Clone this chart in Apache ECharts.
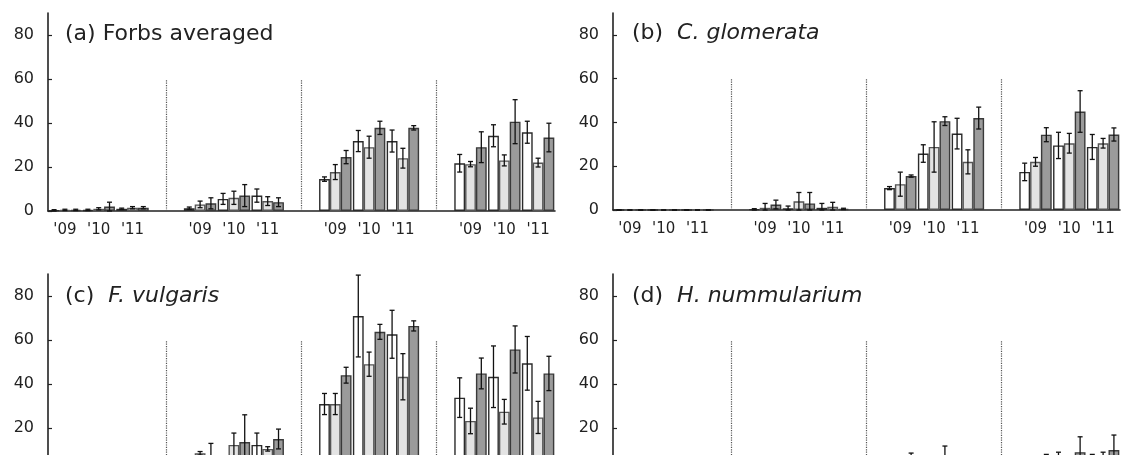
<!DOCTYPE html>
<html>
<head>
<meta charset="utf-8">
<script src="https://cdn.jsdelivr.net/npm/echarts@6/dist/echarts.min.js"></script>
<style>
  html, body { margin: 0; padding: 0; background: #fff; overflow: hidden; }
  body { height: 455px; }
  #chart { width: 1124px; height: 520px; }
</style>
</head>
<body>
<div id="chart"></div>
<script>
// categories: 4 blocks x 3 years, with an empty slot between blocks
const years = ["'09", "'10", "'11"]
const xCats = [...years, '', ...years, '', ...years, '', ...years]
const gapIdx = [3, 7, 11]
const yTicks = [0, 20, 40, 60, 80]

// (a) Forbs averaged  -- 12 values: block1 '09 '10 '11, block2 ..., block4
const forbsWhite   = [0.3, 0.5, 1,   1.3, 5.5, 7,   14.5, 31.8, 31.8,  21.7, 34.2, 35.8]
const forbsWhiteSE = [0.3, 0.3, 0.3, 0.5, 2.5, 3,   1,    4.8,  5,     4,    5,    5]
const forbsLight   = [0.5, 1,   1.5, 3,   6,   4.5, 17.7, 29,   24,    21.3, 23,   22]
const forbsLightSE = [0.3, 0.5, 0.5, 1.5, 3,   2,   3.4,  5,    4.5,   1.2,  2.5,  2]
const forbsDark    = [0.5, 2,   1.5, 3.5, 7,   4,   24.5, 37.8, 37.8,  29,   40.6, 33.4]
const forbsDarkSE  = [0.3, 2,   0.5, 2.5, 5,   2,   3,    3,    1,     7,    10,   6.5]

// (b) C. glomerata
const glomWhite   = [0, 0, 0,  0.3, 0.8, 1,    10,   25.8, 34.9,  17.4, 29.5, 28.8]
const glomWhiteSE = [0, 0, 0,  0.3, 1,   2,    0.7,  4,    7,     4,    6,    5.7]
const glomLight   = [0, 0, 0,  1,   4,   1.5,  11.8, 28.8, 22,    22,   30.5, 30.5]
const glomLightSE = [0, 0, 0,  2,   4,   2,    5.5,  11.5, 5.5,   2,    4.5,  2.2]
const glomDark    = [0, 0, 0,  2.5, 3,   0.5,  15.5, 40.6, 42,    34.4, 45,   34.5]
const glomDarkSE  = [0, 0, 0,  2,   5,   0.3,  0.5,  2,    5,     3.2,  9.5,  3]

// (c) F. vulgaris
const vulgWhite   = [0.2, 0.3, 0.2,  2,   5,    12.3,  30.9, 70.9, 62.6,  33.8, 43.3, 49.4]
const vulgWhiteSE = [0.2, 0.2, 0.2,  1,   2,    5.4,   4.8,  18.6, 10.9,  9,    14,   12.2]
const vulgLight   = [0.3, 0.2, 0.3,  8.5, 12.3, 10.5,  30.9, 49,   43.3,  23.2, 27.4, 24.8]
const vulgLightSE = [0.2, 0.2, 0.2,  0.8, 5.4,  1,     4.8,  5.5,  10.5,  5.8,  5.6,  7.3]
const vulgDark    = [0.2, 0.3, 0.3,  5,   13.6, 15,    44,   63.7, 66.4,  44.8, 55.7, 44.8]
const vulgDarkSE  = [0.2, 0.2, 0.2,  8,   12.4, 4.5,   3.6,  3.4,  2.3,   7,    10.7, 7.8]

// (d) H. nummularium
const nummWhite   = [0, 0, 0,  0.5, 1,   0.5,  2,   3,   2,    4,   6,   6.5]
const nummWhiteSE = [0, 0, 0,  0.3, 0.5, 0.3,  1,   1,   1,    2,   3,   1.5]
const nummLight   = [0, 0, 0,  1,   1.5, 1,    3,   4,   3,    5,   5,   7]
const nummLightSE = [0, 0, 0,  0.5, 0.5, 0.5,  1,   1,   1,    2,   2,   2]
const nummDark    = [0, 0, 0,  1.5, 2,   1.5,  6,   6,   4,    6,   9,   10]
const nummDarkSE  = [0, 0, 0,  1,   1,   1,    2.6, 5.8, 2,    2,   7,   6.8]

const panels = [
  { title: '(a) Forbs averaged', means: [forbsWhite, forbsLight, forbsDark], ses: [forbsWhiteSE, forbsLightSE, forbsDarkSE] },
  { title: '{n|(b)}  {i|C. glomerata}', means: [glomWhite, glomLight, glomDark], ses: [glomWhiteSE, glomLightSE, glomDarkSE] },
  { title: '{n|(c)}  {i|F. vulgaris}', means: [vulgWhite, vulgLight, vulgDark], ses: [vulgWhiteSE, vulgLightSE, vulgDarkSE] },
  { title: '{n|(d)}  {i|H. nummularium}', means: [nummWhite, nummLight, nummDark], ses: [nummWhiteSE, nummLightSE, nummDarkSE] },
]

const FONT = 'DejaVu Sans'
const BAR_RATIO = 0.32
const fills = ['#ffffff', '#e3e3e3', '#9b9b9b']
const borders = ['#2b2b2b', '#555555', '#3a3a3a']

// bottom row runs past the window edge, like the cropped original
const grids = [
  { left: 48, top: 13, width: 507, height: 198 },
  { left: 613, top: 13, width: 507, height: 197 },
  { left: 48, top: 274, width: 507, height: 198 },
  { left: 613, top: 274, width: 507, height: 198 },
].map(g => ({ ...g, outerBoundsMode: 'none', containLabel: false }))
const titlePos = [[65, 23], [632, 22], [65, 285], [632, 285]]

// put the 12 block values onto the 15 category slots
function toSlots (arr) {
  const out = []
  let j = 0
  for (let i = 0; i < xCats.length; i++) {
    if (gapIdx.includes(i)) out.push('-')
    else out.push(arr[j++])
  }
  return out
}

function slotIndex (j) {
  return j + Math.floor(j / 3)
}

function renderErr (params, api) {
  const idx = api.value(0)
  const mean = api.value(1)
  const se = api.value(2)
  const k = api.value(3)
  const catW = api.size([1, 0])[0]
  const off = (k - 1) * catW * BAR_RATIO
  const top = api.coord([idx, mean + se])
  const bot = api.coord([idx, Math.max(mean - se, 0)])
  const x = top[0] + off
  const cap = 2.5
  const style = { stroke: '#111', lineWidth: 1.3 }
  return {
    type: 'group',
    children: [
      { type: 'line', shape: { x1: x, y1: top[1], x2: x, y2: bot[1] }, style },
      { type: 'line', shape: { x1: x - cap, y1: top[1], x2: x + cap, y2: top[1] }, style },
      { type: 'line', shape: { x1: x - cap, y1: bot[1], x2: x + cap, y2: bot[1] }, style },
    ],
  }
}

const xAxis = grids.map((g, i) => ({
  type: 'category',
  gridIndex: i,
  data: xCats,
  axisLine: { lineStyle: { color: '#222', width: 1.6 } },
  axisTick: { interval: 0, length: 4, lineStyle: { color: '#222', width: 1.2 } },
  axisLabel: { interval: 0, margin: 12, color: '#222', fontFamily: FONT, fontSize: 15 },
}))

const yAxis = grids.map((g, i) => ({
  type: 'value',
  gridIndex: i,
  min: 0,
  max: 90,
  interval: 20,
  splitLine: { show: false },
  axisLine: { show: true, lineStyle: { color: '#222', width: 1.6 } },
  axisTick: { show: true, inside: true, length: 4, customValues: yTicks, lineStyle: { color: '#222', width: 1.2 } },
  axisLabel: {
    margin: 14,
    color: '#222',
    fontFamily: FONT,
    fontSize: 16,
    customValues: yTicks,
    formatter: v => (v === 90 ? '' : v),
  },
}))

const series = []
panels.forEach((p, pi) => {
  p.means.forEach((m, k) => {
    const s = {
      type: 'bar',
      xAxisIndex: pi,
      yAxisIndex: pi,
      data: toSlots(m),
      barWidth: (BAR_RATIO * 100) + '%',
      barGap: '0%',
      itemStyle: { color: fills[k], borderColor: borders[k], borderWidth: 1.4 },
      emphasis: { disabled: true },
      animation: false,
    }
    // middle series sits on the category centre, so the separators land mid-gap
    if (k === 1) {
      s.markLine = {
        silent: true,
        symbol: ['none', 'none'],
        label: { show: false },
        lineStyle: { type: 'dotted', color: '#555', width: 1.2 },
        data: gapIdx.map(i => [{ coord: [i, 0] }, { coord: [i, 60] }]),
      }
    }
    series.push(s)
  })
  const errData = []
  p.means.forEach((m, k) => {
    m.forEach((v, j) => errData.push([slotIndex(j), v, p.ses[k][j], k]))
  })
  series.push({
    type: 'custom',
    xAxisIndex: pi,
    yAxisIndex: pi,
    data: errData,
    renderItem: renderErr,
    z: 5,
    silent: true,
    animation: false,
  })
})

const title = panels.map((p, i) => ({
  text: p.title,
  left: titlePos[i][0],
  top: titlePos[i][1],
  padding: 0,
  textStyle: {
    fontFamily: FONT,
    fontSize: 22,
    fontWeight: 'normal',
    color: '#222',
    rich: {
      n: { fontFamily: FONT, fontSize: 22, color: '#222' },
      i: { fontFamily: FONT, fontSize: 22, fontStyle: 'italic', color: '#222' },
    },
  },
}))

const chart = echarts.init(document.getElementById('chart'))
chart.setOption({
  animation: false,
  title,
  grid: grids,
  xAxis,
  yAxis,
  series,
})
</script>
</body>
</html>
